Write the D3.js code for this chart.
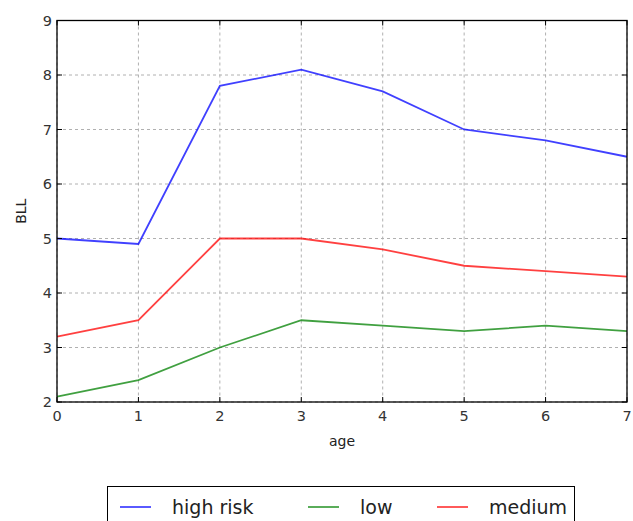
<!DOCTYPE html>
<html><head><meta charset="utf-8">
<script src="https://cdn.jsdelivr.net/npm/d3@7"></script>
<style>body{margin:0;background:#fff}svg{display:block}text{font-family:"DejaVu Sans",sans-serif}</style>
</head><body>
<svg id="c" width="633" height="521"></svg>
<script>
const ages = [0,1,2,3,4,5,6,7];
const highRisk = [5.0,4.9,7.8,8.1,7.7,7.0,6.8,6.5];
const low = [2.1,2.4,3.0,3.5,3.4,3.3,3.4,3.3];
const medium = [3.2,3.5,5.0,5.0,4.8,4.5,4.4,4.3];
const seriesNames = ["high risk","low","medium"];
const seriesColors = ["#0000ff","#008000","#ff0000"];
const xTicks = [0,1,2,3,4,5,6,7];
const yTicks = [2,3,4,5,6,7,8,9];

const svg = d3.select("#c");
const L=57,R=627,T=20.5,B=402;
const x = d3.scaleLinear().domain([0,7]).range([L,R]);
const y = d3.scaleLinear().domain([2,9]).range([B,T]);

// grid
const g = svg.append("g");
g.selectAll(".gx").data(xTicks).join("line")
 .attr("x1",d=>x(d)).attr("x2",d=>x(d)).attr("y1",T).attr("y2",B)
 .attr("stroke","#b0b0b0").attr("stroke-width",1).attr("stroke-dasharray","3,3");
g.selectAll(".gy").data(yTicks).join("line")
 .attr("y1",d=>y(d)).attr("y2",d=>y(d)).attr("x1",L).attr("x2",R)
 .attr("stroke","#b0b0b0").attr("stroke-width",1).attr("stroke-dasharray","3,3");

// series
const all = [highRisk, low, medium];
const line = d3.line().x((d,i)=>x(ages[i])).y(d=>y(d));
all.forEach((s,k)=>{
  svg.append("path").datum(s).attr("d",line).attr("fill","none")
   .attr("stroke",seriesColors[k]).attr("stroke-width",1.8).attr("opacity",0.75);
});

// ticks (inward, on all sides)
const tk = svg.append("g").attr("stroke","#000").attr("stroke-width",1);
xTicks.forEach(t=>{
  tk.append("line").attr("x1",x(t)).attr("x2",x(t)).attr("y1",B).attr("y2",B-5);
  tk.append("line").attr("x1",x(t)).attr("x2",x(t)).attr("y1",T).attr("y2",T+5);
});
yTicks.forEach(t=>{
  tk.append("line").attr("y1",y(t)).attr("y2",y(t)).attr("x1",L).attr("x2",L+5);
  tk.append("line").attr("y1",y(t)).attr("y2",y(t)).attr("x1",R).attr("x2",R-5);
});
svg.append("rect").attr("x",L).attr("y",T).attr("width",R-L).attr("height",B-T)
 .attr("fill","none").attr("stroke","#000").attr("stroke-width",1.3);

// tick labels
svg.selectAll(".xl").data(xTicks).join("text")
 .attr("x",d=>x(d)).attr("y",B+19).attr("text-anchor","middle")
 .attr("font-size",14.5).attr("fill","#333").text(d=>d);
svg.selectAll(".yl").data(yTicks).join("text")
 .attr("x",L-5).attr("y",d=>y(d)+5).attr("text-anchor","end")
 .attr("font-size",14.5).attr("fill","#333").text(d=>d);

// axis labels
svg.append("text").attr("x",(L+R)/2).attr("y",446).attr("text-anchor","middle")
 .attr("font-size",14).attr("fill","#222").text("age");
svg.append("text").attr("transform",`translate(26,${(T+B)/2}) rotate(-90)`)
 .attr("text-anchor","middle").attr("font-size",14).attr("fill","#222").text("BLL");

// legend
svg.append("rect").attr("x",107.5).attr("y",486.5).attr("width",467).attr("height",50)
 .attr("fill","#fff").attr("stroke","#000").attr("stroke-width",1);
const lx = [120,308,437];
seriesNames.forEach((n,k)=>{
  svg.append("line").attr("x1",lx[k]).attr("x2",lx[k]+31).attr("y1",507).attr("y2",507)
   .attr("stroke",seriesColors[k]).attr("stroke-width",1.3);
  svg.append("text").attr("x",lx[k]+52).attr("y",514).attr("font-size",19)
   .attr("fill","#222").text(n);
});
</script>
</body></html>
